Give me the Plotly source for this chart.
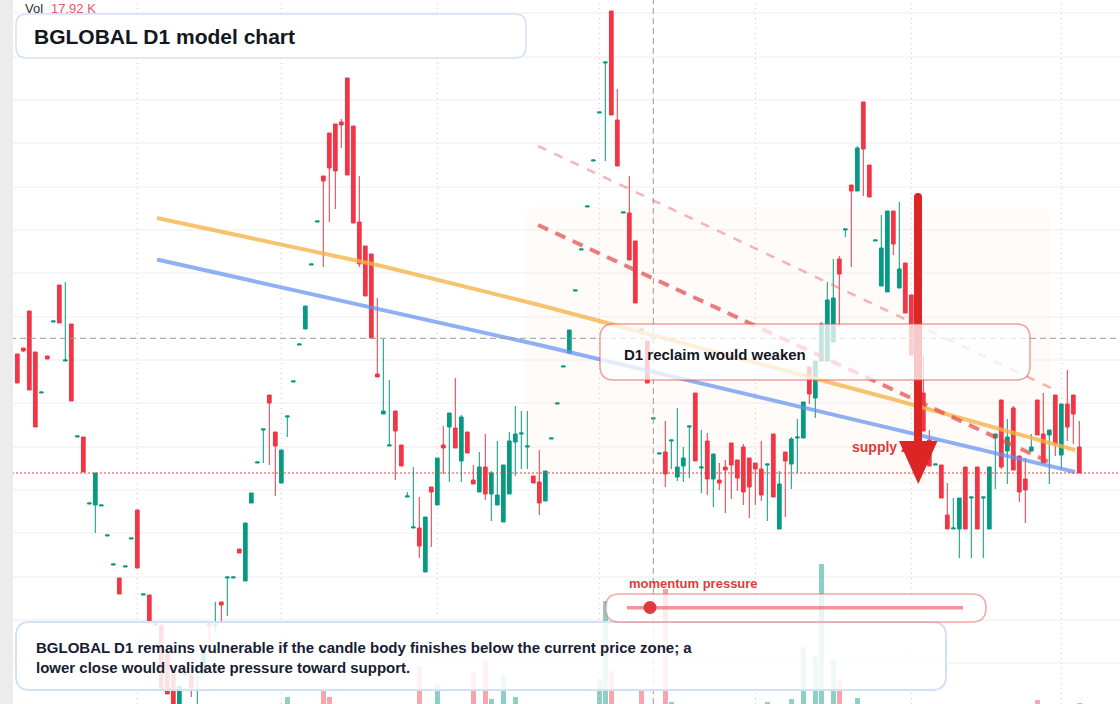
import plotly.graph_objects as go

W, H = 1120, 704

# ---------------- data (price units, daily candles) ----------------
open_ = [3.66, 3.72, 4.09, 3.68, 3.27, 3.64, 3.98, 4.35, 3.59, 3.96,
         2.83, 2.83, 2.16, 2.15, 2.14, 1.84, 1.55, 1.42, 1.53, 1.81,
         2.10, 1.25, 1.25, 0.95, 0.95, 0.67, 0.46, 0.08, 0.45, 0.45,
         0.10, 0.47, 0.98, 0.94, 1.18, 1.42, 1.42, 1.71, 1.39, 2.17,
         2.57, 2.90, 3.25, 2.88, 2.37, 3.03, 3.38, 3.75, 3.91, 4.55,
         4.98, 5.44, 5.87, 5.96, 5.98, 6.42, 5.94, 4.98, 4.74, 4.66,
         3.46, 3.06, 2.74, 3.09, 2.75, 2.23, 1.92, 1.92, 1.48, 2.33,
         2.15, 2.75, 2.93, 2.92, 2.59, 2.88, 2.40, 2.28, 2.53, 2.26,
         2.15, 1.98, 2.26, 2.78, 2.86, 2.73, 2.44, 2.38, 2.19, 2.81,
         3.16, 3.53, 3.67, 4.29, 4.70, 5.13, 5.59, 6.07, 6.57, 7.09,
         6.00, 5.07, 5.07, 4.79, 3.91, 3.79, 3.01, 2.66, 2.68, 2.79,
         2.43, 2.54, 2.93, 3.27, 2.52, 2.79, 2.41, 2.40, 2.53, 2.77,
         2.60, 2.73, 2.62, 2.57, 2.51, 2.55, 2.86, 1.91, 2.68, 2.56,
         2.82, 2.82, 3.53, 3.22, 3.59, 3.59, 3.78, 4.61, 4.90, 5.35,
         5.29, 6.18, 5.55, 4.79, 4.34, 4.28, 5.09, 4.32, 4.57, 4.25,
         3.65, 3.27, 2.80, 2.55, 2.55, 2.05, 1.91, 1.91, 2.53, 2.22,
         2.53, 2.22, 1.91, 2.82, 3.20, 2.69, 3.12, 2.64, 2.41, 2.69,
         3.20, 2.86, 2.85, 3.25, 2.65, 3.16, 3.25, 2.73]
high_ = [3.66, 3.72, 4.09, 3.68, 3.28, 3.64, 3.99, 4.35, 4.38, 3.96,
         2.84, 2.83, 2.17, 2.47, 2.15, 1.85, 1.56, 1.42, 1.54, 1.82,
         2.10, 1.26, 1.25, 0.96, 0.95, 0.67, 0.46, 0.34, 0.46, 0.45,
         0.52, 0.70, 0.98, 1.18, 1.18, 1.43, 1.43, 1.71, 1.97, 2.27,
         2.58, 2.91, 3.25, 2.88, 2.70, 3.04, 3.39, 3.76, 4.14, 4.56,
         4.99, 5.44, 5.87, 5.96, 6.01, 6.42, 5.94, 5.44, 4.74, 4.66,
         4.22, 3.81, 3.40, 3.09, 2.75, 2.28, 2.53, 2.23, 2.03, 2.33,
         2.62, 2.94, 3.07, 3.42, 3.05, 2.88, 2.55, 2.68, 2.86, 2.49,
         2.79, 2.55, 2.88, 3.14, 3.09, 3.09, 2.44, 2.70, 2.49, 2.82,
         3.17, 3.54, 3.90, 4.30, 4.71, 5.14, 5.60, 6.08, 6.58, 7.09,
         6.31, 5.08, 5.44, 4.79, 3.91, 3.79, 3.02, 2.67, 2.99, 2.80,
         3.12, 2.73, 2.94, 3.27, 2.90, 2.87, 2.66, 2.57, 2.60, 2.77,
         2.60, 2.76, 2.62, 2.57, 2.79, 2.56, 2.86, 2.49, 2.68, 2.83,
         3.01, 3.18, 3.53, 3.59, 3.98, 4.38, 4.61, 4.64, 4.91, 5.35,
         5.74, 6.18, 5.55, 4.80, 5.05, 5.09, 5.09, 5.18, 4.57, 4.25,
         3.65, 3.64, 2.90, 2.56, 2.55, 2.37, 2.22, 2.22, 2.53, 2.23,
         2.53, 2.23, 2.53, 2.86, 3.20, 3.01, 3.14, 2.64, 2.62, 2.86,
         3.20, 3.27, 2.90, 3.25, 3.16, 3.50, 3.25, 2.99]
low_ = [3.37, 3.68, 3.30, 2.93, 3.27, 3.61, 3.98, 3.97, 3.59, 3.19,
        2.83, 2.48, 2.16, 1.87, 2.14, 1.84, 1.55, 1.26, 1.53, 1.81,
        1.52, 1.25, 0.97, 0.95, 0.30, 0.26, 0.10, 0.08, 0.45, 0.23,
        0.05, 0.47, 0.78, 0.88, 0.99, 1.04, 1.42, 1.67, 1.39, 2.17,
        2.57, 2.57, 2.55, 2.24, 2.37, 2.83, 3.38, 3.75, 3.91, 4.55,
        4.98, 4.53, 4.98, 5.11, 5.72, 5.45, 4.97, 4.53, 4.24, 3.82,
        3.43, 3.06, 2.74, 2.40, 2.54, 2.23, 1.92, 1.62, 1.48, 1.73,
        2.15, 2.46, 2.38, 2.72, 2.38, 2.67, 2.36, 2.28, 2.20, 1.99,
        2.15, 1.98, 2.26, 2.44, 2.51, 2.51, 2.37, 2.05, 2.19, 2.81,
        3.16, 3.53, 3.67, 4.29, 4.70, 5.13, 5.59, 6.07, 5.59, 6.05,
        5.54, 5.07, 4.60, 4.17, 3.90, 3.37, 3.01, 2.66, 2.33, 2.51,
        2.39, 2.38, 2.42, 2.59, 2.27, 2.25, 2.13, 2.30, 2.07, 2.21,
        2.29, 2.15, 2.02, 2.15, 2.19, 1.99, 2.23, 1.91, 2.03, 2.31,
        2.47, 2.82, 3.16, 3.02, 3.59, 3.59, 3.78, 3.93, 4.83, 4.53,
        5.29, 5.24, 5.23, 4.79, 4.34, 4.28, 4.65, 4.32, 4.07, 3.65,
        3.27, 2.89, 2.54, 2.55, 2.22, 1.91, 1.91, 1.62, 1.91, 1.62,
        1.91, 1.62, 1.91, 2.31, 2.51, 2.36, 2.50, 2.18, 1.97, 2.69,
        2.85, 2.57, 2.36, 2.64, 2.51, 2.79, 2.76, 2.47]
close_ = [3.37, 3.69, 3.30, 2.93, 3.28, 3.61, 3.99, 3.97, 3.60, 3.19,
          2.84, 2.48, 2.17, 2.47, 2.15, 1.85, 1.56, 1.26, 1.54, 1.82,
          1.52, 1.26, 0.97, 0.96, 0.30, 0.26, 0.10, 0.34, 0.46, 0.32,
          0.14, 0.70, 0.94, 0.95, 1.15, 1.43, 1.43, 1.67, 1.97, 2.27,
          2.58, 2.91, 3.17, 2.74, 2.70, 3.04, 3.39, 3.76, 4.14, 4.56,
          4.99, 5.39, 5.52, 5.49, 5.95, 5.45, 4.97, 4.56, 4.24, 3.82,
          3.43, 3.09, 2.75, 2.89, 2.54, 2.24, 1.93, 1.74, 2.03, 2.28,
          2.62, 2.72, 3.07, 2.72, 3.03, 2.67, 2.36, 2.53, 2.26, 2.47,
          2.25, 2.55, 2.79, 2.86, 2.87, 2.74, 2.37, 2.17, 2.49, 2.82,
          3.17, 3.54, 3.90, 4.30, 4.71, 5.14, 5.60, 6.08, 6.58, 6.05,
          5.54, 5.08, 4.60, 4.17, 3.90, 3.37, 3.02, 2.67, 2.46, 2.80,
          2.53, 2.62, 2.94, 2.59, 2.53, 2.41, 2.66, 2.37, 2.50, 2.55,
          2.42, 2.28, 2.33, 2.51, 2.25, 2.56, 2.23, 2.36, 2.59, 2.81,
          2.83, 3.18, 3.26, 3.59, 3.96, 4.20, 4.22, 4.46, 4.91, 5.29,
          5.72, 5.71, 5.23, 4.80, 4.72, 5.09, 4.76, 4.51, 4.07, 3.65,
          3.27, 2.89, 2.54, 2.56, 2.22, 1.91, 1.92, 2.22, 1.91, 2.23,
          1.91, 2.23, 2.53, 2.86, 2.53, 2.83, 2.50, 2.28, 2.30, 2.73,
          2.85, 2.57, 2.90, 2.76, 3.16, 2.93, 3.06, 2.47]
volume_k = [6.4, 3.8, 8.2, 5.1, 2.7, 4.4, 3.1, 7.3, 2.9, 6.8,
            3.3, 5.6, 2.4, 4.9, 3.0, 2.2, 2.8, 4.7, 2.5, 3.4,
            6.1, 2.6, 5.8, 3.2, 7.4, 6.6, 8.5, 4.2, 2.9, 5.3,
            3.7, 4.6, 2.8, 3.5, 3.1, 2.6, 2.3, 3.9, 7.7, 4.1,
            2.4, 3.6, 5.2, 6.3, 4.8, 129, 3.3, 2.7, 5.5, 2.9,
            3.4, 242, 131, 8.4, 4.6, 7.9, 8.8, 6.2, 5.4, 7.1,
            3.8, 2.9, 3.3, 4.4, 5.0, 2.2, 3.1, 681, 6.4, 3.5,
            358, 2.8, 4.3, 5.7, 6.0, 3.9, 573, 4.5, 788, 90,
            3.2, 520, 5.1, 125, 2.6, 2.4, 3.0, 4.8, 5.9, 2.1,
            2.3, 2.0, 6.7, 2.5, 2.2, 2.6, 2.4, 457, 1846, 591,
            8.9, 2.7, 7.6, 8.2, 251, 6.9, 3.2, 2.8, 2061, 36,
            5.3, 3.7, 4.0, 8.6, 3.4, 6.2, 4.9, 2.6, 3.6, 4.5,
            3.9, 6.0, 4.7, 2.9, 5.8, 27, 7.5, 6.8, 3.3, 90,
            4.2, 1021, 7.2, 842, 2509, 8.1, 783, 412, 2.5, 6.6,
            108, 8.3, 5.9, 2.7, 7.0, 8.7, 5.1, 6.4, 6.9, 7.8,
            5.6, 4.8, 3.7, 2.4, 4.1, 3.8, 2.9, 5.2, 6.3, 3.4,
            6.1, 3.0, 5.7, 2.8, 6.5, 4.4, 5.9, 4.3, 3.9, 3.1,
            72, 4.6, 3.5, 5.4, 6.2, 4.9, 3.8, 17.92]

orange_x = [23.3, 60, 87, 147, 176.3]
orange_y = [5.02, 4.55, 4.15, 3.19, 2.70]
blue_x = [23.3, 87, 176.3]
blue_y = [4.605, 3.75, 2.48]
dash_x = [86.8, 172.3]
dash_strong_y = [4.95, 2.57]
dash_soft_y = [5.74, 3.32]
grid_x = [20, 44, 70, 97, 123, 149, 174]
cross_x = 106
cross_y = 3.817

# ---------------- plot geometry (style) ----------------
X0_PX, STEP_PX = 17.3, 6.0          # first candle centre, candle spacing in px
X_RANGE = [-X0_PX / STEP_PX, (W - X0_PX) / STEP_PX]
Y_RANGE = [0.16, 7.20]
VOL_PER_PX = 17.92
VOL_RANGE = [0, H * VOL_PER_PX]
grid_y_px = [13.3 + 43.33 * k for k in range(16)]
GRID_COLOR = '#c8c8c8'
GRID_DASH = '1px,4px'
HGRID_COLOR = '#ededed'

n = len(close_)
idx = list(range(n))
FONT = "Liberation Sans, Arial, sans-serif"


def P(x, y):
    return f"{x / W:.5f},{1 - y / H:.5f}"


def rrect(x0, y0, x1, y1, r):
    return (f"M{P(x0 + r, y0)} L{P(x1 - r, y0)} Q{P(x1, y0)} {P(x1, y0 + r)} "
            f"L{P(x1, y1 - r)} Q{P(x1, y1)} {P(x1 - r, y1)} L{P(x0 + r, y1)} "
            f"Q{P(x0, y1)} {P(x0, y1 - r)} L{P(x0, y0 + r)} Q{P(x0, y0)} {P(x0 + r, y0)} Z")


def i_of(xp):
    return (xp - X0_PX) / STEP_PX


def p_of(yp):
    return Y_RANGE[1] - yp * (Y_RANGE[1] - Y_RANGE[0]) / H


vol_colors = ['rgba(8,153,129,0.46)' if c >= o else 'rgba(242,54,69,0.45)'
              for o, c in zip(open_, close_)]

fig = go.Figure()
fig.add_trace(go.Bar(x=idx, y=volume_k, width=0.8, yaxis='y',
                     marker=dict(color=vol_colors, line=dict(width=0)),
                     hoverinfo='skip', showlegend=False))
fig.add_trace(go.Candlestick(
    x=idx, open=open_, high=high_, low=low_, close=close_, yaxis='y2',
    increasing=dict(line=dict(color='#089981', width=1), fillcolor='#089981'),
    decreasing=dict(line=dict(color='#f23645', width=1), fillcolor='#f23645'),
    whiskerwidth=0, hoverinfo='skip', showlegend=False))
fig.add_trace(go.Scatter(x=orange_x, y=orange_y, yaxis='y2', mode='lines',
                         line=dict(color='rgba(246,178,70,0.78)', width=4),
                         hoverinfo='skip', showlegend=False))
fig.add_trace(go.Scatter(x=blue_x, y=blue_y, yaxis='y2', mode='lines',
                         line=dict(color='rgba(100,145,240,0.72)', width=4),
                         hoverinfo='skip', showlegend=False))
fig.add_trace(go.Scatter(x=dash_x, y=dash_soft_y, yaxis='y2', mode='lines',
                         line=dict(color='rgba(240,120,120,0.55)', width=2.5, dash='9px,9px'),
                         hoverinfo='skip', showlegend=False))
fig.add_trace(go.Scatter(x=dash_x, y=dash_strong_y, yaxis='y2', mode='lines',
                         line=dict(color='rgba(228,70,70,0.7)', width=4, dash='11px,8px'),
                         hoverinfo='skip', showlegend=False))
fig.add_trace(go.Scatter(x=[i_of(852)], y=[p_of(448)], yaxis='y2', mode='text',
                         text=['<b>supply zone</b>'], textposition='middle right',
                         textfont=dict(family=FONT, size=14, color='#e03a3a'),
                         hoverinfo='skip', showlegend=False))

shapes = [
    dict(type='path', path=rrect(525, 207, 1050, 484, 14), xref='paper', yref='paper',
         fillcolor='rgba(245,170,140,0.05)', line=dict(width=0), layer='below'),
]
# grid: vertical date separators and horizontal price levels
for gx in grid_x:
    shapes.append(dict(type='line', xref='x', x0=gx, x1=gx, yref='paper', y0=0, y1=1,
                       line=dict(color=GRID_COLOR, width=1, dash=GRID_DASH), layer='below'))
for gy in grid_y_px:
    shapes.append(dict(type='line', xref='paper', x0=0, x1=1, yref='paper',
                       y0=1 - round(gy) / H, y1=1 - round(gy) / H,
                       line=dict(color=HGRID_COLOR, width=1), layer='below'))
shapes += [
    dict(type='line', xref='paper', x0=0, x1=1, yref='y2', y0=close_[-1], y1=close_[-1],
         line=dict(color='#f23645', width=1, dash='2px,2px'), layer='above'),
    dict(type='line', xref='paper', x0=0, x1=1, yref='y2', y0=cross_y, y1=cross_y,
         line=dict(color='#9a9a9a', width=1, dash='6px,4px'), layer='above'),
    dict(type='line', xref='x', x0=cross_x, x1=cross_x, yref='paper', y0=0, y1=1,
         line=dict(color='#9a9a9a', width=1, dash='6px,4px'), layer='above'),
    # big arrow
    dict(type='path', xref='paper', yref='paper',
         path=f"M{P(914, 442)} L{P(914, 197)} Q{P(914, 193)} {P(918, 193)} "
              f"Q{P(922, 193)} {P(922, 197)} L{P(922, 442)} Z",
         fillcolor='#dc2626', line=dict(width=0), layer='above'),
    dict(type='path', xref='paper', yref='paper',
         path=f"M{P(899, 441)} L{P(937.5, 441)} L{P(918.3, 484)} Z",
         fillcolor='#dc2626', line=dict(width=0), layer='above'),
    # reclaim box
    dict(type='path', path=rrect(600, 324, 1030, 380, 14), xref='paper', yref='paper',
         fillcolor='rgba(255,255,255,0.75)', line=dict(color='rgba(232,80,80,0.55)', width=1.5),
         layer='above'),
    # bottom note box
    dict(type='path', path=rrect(16, 622, 946, 690, 14), xref='paper', yref='paper',
         fillcolor='rgba(255,255,255,0.86)', line=dict(color='#d3e1f7', width=2), layer='above'),
    # momentum pill
    dict(type='path', path=rrect(605.5, 594, 986, 622, 14), xref='paper', yref='paper',
         fillcolor='rgba(255,255,255,0.78)', line=dict(color='rgba(232,80,80,0.5)', width=1.5),
         layer='above'),
    dict(type='line', xref='paper', yref='paper', x0=627 / W, x1=963 / W,
         y0=1 - 607.7 / H, y1=1 - 607.7 / H,
         line=dict(color='rgba(228,80,80,0.6)', width=3.5), layer='above'),
    dict(type='circle', xref='paper', yref='paper', x0=643.5 / W, x1=656.5 / W,
         y0=1 - 614 / H, y1=1 - 601 / H, fillcolor='#e0393e', line=dict(width=0), layer='above'),
    # title box
    dict(type='path', path=rrect(16, 14, 526, 58, 11), xref='paper', yref='paper',
         fillcolor='white', line=dict(color='#d3e1f7', width=1.5), layer='above'),
    # left strip
    dict(type='rect', xref='paper', yref='paper', x0=0, x1=13 / W, y0=0, y1=1,
         fillcolor='#ececec', line=dict(width=0), layer='above'),
]


def ann(x, y, text, size, color, bold=False):
    return dict(x=x / W, y=1 - y / H, xref='paper', yref='paper', xanchor='left', yanchor='middle',
                text=f"<b>{text}</b>" if bold else text, showarrow=False, align='left',
                font=dict(family=FONT, size=size, color=color))


annotations = [
    ann(23, 8.5, 'Vol', 13, '#2a2e39'),
    ann(49, 8.5, f"{volume_k[-1]:.2f} K", 13, '#f05560'),
    ann(32, 36, 'BGLOBAL D1 model chart', 21, '#131722', True),
    ann(622, 354, 'D1 reclaim would weaken', 15, '#131722', True),
    ann(627, 583, 'momentum pressure', 13, '#e03b3b', True),
    ann(34, 657, 'BGLOBAL D1 remains vulnerable if the candle body finishes below the current price zone; a'
                 '<br>lower close would validate pressure toward support.', 15, '#172033', True),
]

fig.update_layout(
    width=W, height=H, margin=dict(l=0, r=0, t=0, b=0),
    paper_bgcolor='white', plot_bgcolor='white', showlegend=False,
    xaxis=dict(range=X_RANGE, showgrid=False, showticklabels=False, ticks='',
               zeroline=False, showline=False, rangeslider=dict(visible=False)),
    yaxis=dict(range=VOL_RANGE, showgrid=False,
               showticklabels=False, ticks='', zeroline=False, showline=False),
    yaxis2=dict(range=Y_RANGE, overlaying='y', showgrid=False, showticklabels=False,
                ticks='', zeroline=False, showline=False),
    boxgap=0.38, boxgroupgap=0, bargap=0,
    shapes=shapes, annotations=annotations,
)

fig.write_html("out.html", config={'displayModeBar': False})
